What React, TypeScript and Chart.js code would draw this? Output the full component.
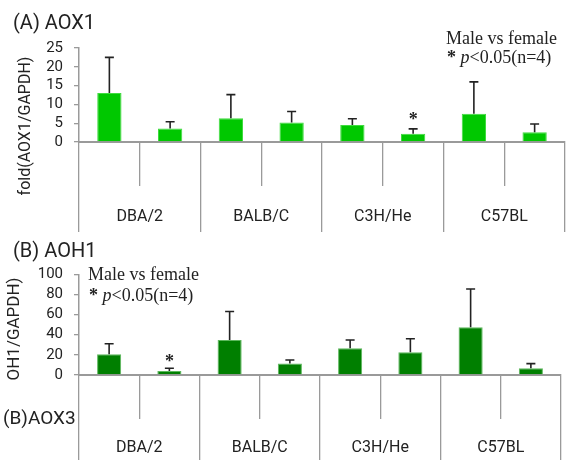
import React, { useEffect, useRef } from 'react';
import { Chart, registerables } from 'chart.js';

Chart.register(...registerables);

// ---------- data ----------
const strains = ['DBA/2', 'BALB/C', 'C3H/He', 'C57BL'];
const sexes = ['Male', 'Female'];

// (A) AOX1
const aox1Male = [13.0, 6.3, 4.5, 7.5];
const aox1Female = [3.6, 5.2, 2.2, 2.6];
const aox1MaleErr = [9.5, 6.3, 1.7, 8.5];
const aox1FemaleErr = [1.8, 2.9, 1.3, 2.2];
const aox1FemaleSig = [false, false, true, false];
const aox1Ticks = [0, 5, 10, 15, 20, 25];

// (B) AOH1
const aoh1Male = [20.5, 34.8, 26.5, 47.4];
const aoh1Female = [4.0, 11.3, 22.5, 6.7];
const aoh1MaleErr = [10.5, 28.2, 8.2, 38.0];
const aoh1FemaleErr = [2.7, 3.6, 13.5, 4.6];
const aoh1FemaleSig = [true, false, false, false];
const aoh1Ticks = [0, 20, 40, 60, 80, 100];

const noteLine1 = 'Male vs female';
const noteStar = '*';
const noteP = 'p';
const noteRest = '<0.05(n=4)';

// ---------- helpers ----------
const interleave = (a: number[], b: number[]) => a.flatMap((v, i) => [v, b[i]]);
const interleaveB = (a: boolean[], b: boolean[]) => a.flatMap((v, i) => [v, b[i]]);
const barLabels = strains.flatMap((s) => sexes.map((x) => `${s} ${x}`));

const SANS = 'Roboto, "Noto Sans", sans-serif';
const SERIF = '"Liberation Serif", "DejaVu Serif", serif';

const errorBarPlugin = {
  id: 'errorBars',
  afterDatasetsDraw(chart: any, _args: any, opts: any) {
    const { ctx } = chart;
    const y = chart.scales.y;
    const meta = chart.getDatasetMeta(0);
    const values = chart.data.datasets[0].data as number[];
    ctx.save();
    ctx.strokeStyle = '#222';
    ctx.lineWidth = 1.6;
    meta.data.forEach((bar: any, i: number) => {
      const topPx = y.getPixelForValue(values[i] + opts.errors[i]);
      ctx.beginPath();
      ctx.moveTo(bar.x, bar.y);
      ctx.lineTo(bar.x, topPx);
      ctx.moveTo(bar.x - 4.5, topPx);
      ctx.lineTo(bar.x + 4.5, topPx);
      ctx.stroke();
      if (opts.sig[i]) {
        ctx.fillStyle = '#222';
        ctx.font = `bold 18px ${SERIF}`;
        ctx.textAlign = 'center';
        ctx.textBaseline = 'alphabetic';
        ctx.fillText('*', bar.x, topPx - opts.starGap);
      }
    });
    ctx.restore();
  },
};

function drawRuns(ctx: CanvasRenderingContext2D, x: number, y: number, runs: { t: string; f: string }[]) {
  let cx = x;
  runs.forEach((r) => {
    ctx.font = r.f;
    ctx.fillText(r.t, cx, y);
    cx += ctx.measureText(r.t).width;
  });
}

const textPlugin = {
  id: 'panelText',
  afterDraw(chart: any, _args: any, o: any) {
    const { ctx } = chart;
    ctx.save();
    ctx.fillStyle = '#222';
    ctx.textAlign = 'left';
    ctx.textBaseline = 'alphabetic';
    ctx.font = `20px ${SANS}`;
    ctx.fillText(o.title, o.titleX, o.titleY);
    if (o.extra) {
      ctx.font = `19px ${SANS}`;
      ctx.fillText(o.extra, o.extraX, o.extraY);
    }
    ctx.font = `18px ${SERIF}`;
    ctx.fillText(noteLine1, o.noteX, o.noteY1);
    drawRuns(ctx, o.noteX + 1, o.noteY2, [
      { t: noteStar, f: `bold 18px ${SERIF}` },
      { t: ' ', f: `18px ${SERIF}` },
      { t: noteP, f: `italic 18px ${SERIF}` },
      { t: noteRest, f: `18px ${SERIF}` },
    ]);
    ctx.translate(o.yLabX, o.yLabY);
    ctx.rotate(-Math.PI / 2);
    ctx.textAlign = 'center';
    ctx.textBaseline = 'middle';
    ctx.font = `${o.yLabSize}px ${SANS}`;
    ctx.fillText(o.yLabel, 0, 0);
    ctx.restore();
  },
};

function buildConfig(p: any) {
  return {
    type: 'bar',
    data: {
      labels: barLabels,
      datasets: [
        {
          label: p.name,
          data: p.values,
          backgroundColor: p.fill,
          borderColor: p.border,
          borderWidth: 1,
          borderSkipped: 'bottom',
          barPercentage: 0.4,
          categoryPercentage: 1,
        },
      ],
    },
    options: {
      animation: false,
      responsive: false,
      maintainAspectRatio: false,
      layout: { padding: { top: p.padTop, right: p.padRight, bottom: p.padBottom, left: 0 } },
      plugins: {
        legend: { display: false },
        tooltip: { enabled: false },
        errorBars: { errors: p.errors, sig: p.sig, starGap: p.starGap },
        panelText: p.text,
      },
      scales: {
        x: {
          type: 'category',
          position: 'bottom',
          weight: 0,
          offset: true,
          grid: { offset: true, drawOnChartArea: false, tickLength: 44, color: '#9a9a9a', lineWidth: 1.3 },
          border: { color: '#9a9a9a', width: 2 },
          ticks: { display: false, autoSkip: false },
          afterFit: (s: any) => {
            s.height = 44;
          },
        },
        x2: {
          type: 'category',
          labels: strains,
          position: 'bottom',
          weight: 1,
          offset: true,
          grid: { offset: true, drawOnChartArea: false, tickLength: p.x2Len, color: '#9a9a9a', lineWidth: 1.3 },
          border: { display: false },
          ticks: { padding: p.x2Pad, font: { family: SANS, size: 16 }, color: '#222', maxRotation: 0, autoSkip: false },
          afterFit: (s: any) => {
            s.height = p.x2Len;
          },
        },
        y: {
          min: 0,
          max: p.ticks[p.ticks.length - 1],
          afterBuildTicks: (s: any) => {
            s.ticks = p.ticks.map((v: number) => ({ value: v }));
          },
          grid: { drawOnChartArea: false, tickLength: 5, color: '#9a9a9a', lineWidth: 1.3 },
          border: { color: '#9a9a9a', width: 1.5 },
          ticks: { padding: 11, font: { family: SANS, size: 15 }, color: '#222', autoSkip: false },
          afterFit: (s: any) => {
            s.width = 79;
          },
        },
      },
    },
    plugins: [errorBarPlugin, textPlugin],
  };
}

const A_TOP = 0;
const A_H = 236;
const B_TOP = 236;
const B_H = 224;

export default function App() {
  const refA = useRef<HTMLCanvasElement>(null);
  const refB = useRef<HTMLCanvasElement>(null);

  useEffect(() => {
    const cfgA = buildConfig({
      name: 'AOX1',
      values: interleave(aox1Male, aox1Female),
      errors: interleave(aox1MaleErr, aox1FemaleErr),
      sig: interleaveB([false, false, false, false], aox1FemaleSig),
      ticks: aox1Ticks,
      fill: '#00c800',
      border: '#3fdc3f',
      padTop: 48,
      padRight: 1,
      padBottom: 4,
      x2Len: 46,
      x2Pad: -24.6,
      starGap: 4,
      text: {
        title: '(A) AOX1',
        titleX: 13,
        titleY: 28.5,
        noteX: 446,
        noteY1: 43.5,
        noteY2: 63,
        yLabel: 'fold(AOX1/GAPDH)',
        yLabX: 25.5,
        yLabY: 126,
        yLabSize: 16,
      },
    });
    const cfgB = buildConfig({
      name: 'AOH1',
      values: interleave(aoh1Male, aoh1Female),
      errors: interleave(aoh1MaleErr, aoh1FemaleErr),
      sig: interleaveB([false, false, false, false], aoh1FemaleSig),
      ticks: aoh1Ticks,
      fill: '#007f00',
      border: '#5cb85c',
      padTop: 38.3,
      padRight: 5,
      padBottom: 0,
      x2Len: 41,
      x2Pad: -21.6,
      starGap: 1.5,
      text: {
        title: '(B) AOH1',
        titleX: 13,
        titleY: 257 - B_TOP,
        extra: '(B)AOX3',
        extraX: 3,
        extraY: 423.5 - B_TOP,
        noteX: 88,
        noteY1: 280 - B_TOP,
        noteY2: 301 - B_TOP,
        yLabel: 'OH1/GAPDH)',
        yLabX: 15,
        yLabY: 329 - B_TOP,
        yLabSize: 17,
      },
    });
    const a = new Chart(refA.current as HTMLCanvasElement, cfgA as any);
    const b = new Chart(refB.current as HTMLCanvasElement, cfgB as any);
    return () => {
      a.destroy();
      b.destroy();
    };
  }, []);

  return (
    <div style={{ position: 'absolute', left: 0, top: 0, width: 566, height: 460, background: '#fff' }}>
      <canvas
        ref={refA}
        width={566}
        height={A_H}
        style={{ position: 'absolute', left: 0, top: A_TOP, width: 566, height: A_H }}
      />
      <canvas
        ref={refB}
        width={566}
        height={B_H}
        style={{ position: 'absolute', left: 0, top: B_TOP, width: 566, height: B_H }}
      />
    </div>
  );
}
